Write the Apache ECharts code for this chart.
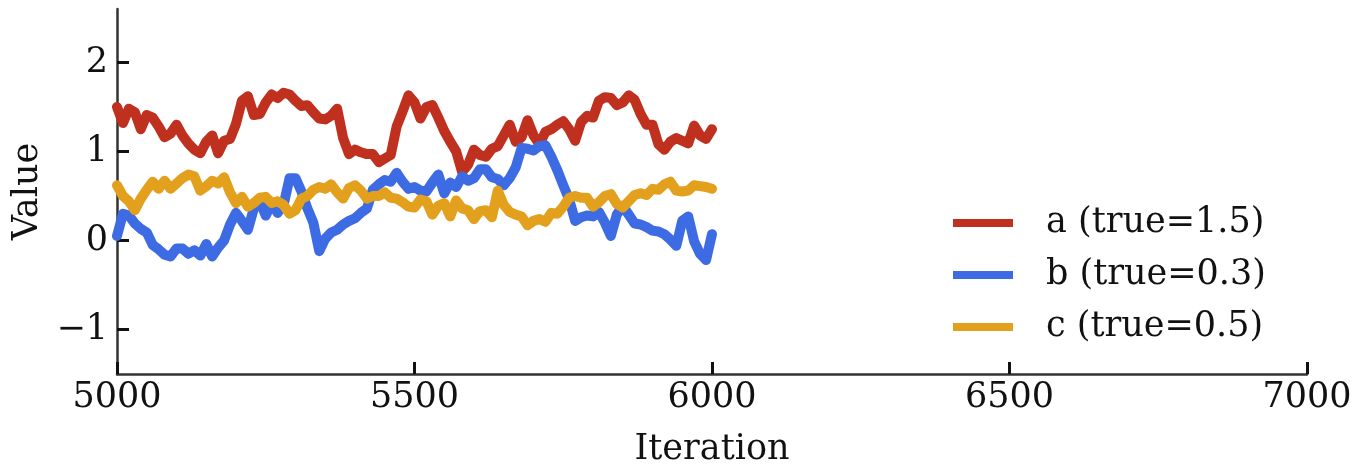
<!DOCTYPE html>
<html>
<head>
<meta charset="utf-8">
<script src="https://cdn.jsdelivr.net/npm/echarts@6/dist/echarts.min.js"></script>
<style>
html,body{margin:0;padding:0;background:#fff;}
#chart{width:1358px;height:472px;}
</style>
</head>
<body>
<div id="chart"></div>
<script>
// Iterations 5000..6000, step 10
const iterations = [];
for (let i = 5000; i <= 6000; i += 10) iterations.push(i);

const seriesNames = ['a (true=1.5)', 'b (true=0.3)', 'c (true=0.5)'];

const aValues = [
1.50,1.32,1.48,1.44,1.25,1.41,1.38,1.28,1.16,1.20,
1.30,1.18,1.09,1.02,0.98,1.11,1.18,0.98,1.12,1.14,
1.31,1.57,1.62,1.41,1.42,1.55,1.64,1.60,1.66,1.64,
1.57,1.51,1.52,1.44,1.37,1.36,1.40,1.48,1.15,0.97,
1.02,0.99,0.97,0.97,0.88,0.92,0.96,1.28,1.45,1.63,
1.55,1.37,1.50,1.52,1.38,1.23,1.11,1.00,0.77,0.85,
1.02,0.96,0.94,1.03,1.06,1.18,1.30,1.11,1.16,1.35,
1.18,1.08,1.22,1.25,1.30,1.34,1.25,1.12,1.33,1.40,
1.38,1.57,1.61,1.60,1.52,1.55,1.63,1.58,1.42,1.30,
1.30,1.08,1.02,1.11,1.15,1.12,1.09,1.29,1.18,1.14,
1.25];

const bValues = [
0.05,0.30,0.28,0.19,0.13,0.09,-0.05,-0.10,-0.16,-0.18,
-0.09,-0.09,-0.15,-0.11,-0.17,-0.04,-0.18,-0.08,0.00,0.18,
0.31,0.22,0.12,0.36,0.44,0.28,0.42,0.31,0.40,0.70,
0.70,0.55,0.36,0.20,-0.12,0.02,0.09,0.12,0.18,0.22,
0.25,0.31,0.36,0.57,0.63,0.68,0.66,0.76,0.66,0.58,
0.60,0.56,0.55,0.65,0.74,0.53,0.65,0.60,0.72,0.67,
0.70,0.80,0.80,0.71,0.69,0.62,0.70,0.82,1.04,1.03,
1.01,1.06,1.07,0.94,0.79,0.62,0.46,0.22,0.26,0.28,
0.27,0.32,0.20,0.05,0.29,0.39,0.29,0.19,0.18,0.15,
0.11,0.10,0.07,0.01,-0.06,0.22,0.27,-0.01,-0.15,-0.22,
0.07];

const cValues = [
0.62,0.50,0.44,0.34,0.47,0.57,0.66,0.58,0.67,0.58,
0.64,0.70,0.74,0.72,0.56,0.61,0.67,0.64,0.71,0.54,
0.42,0.49,0.38,0.42,0.48,0.49,0.42,0.44,0.40,0.30,
0.34,0.47,0.50,0.57,0.60,0.58,0.63,0.54,0.47,0.59,
0.62,0.56,0.47,0.50,0.50,0.54,0.48,0.47,0.43,0.38,
0.37,0.46,0.44,0.29,0.39,0.42,0.27,0.45,0.36,0.34,
0.24,0.33,0.34,0.26,0.56,0.40,0.32,0.29,0.27,0.17,
0.22,0.24,0.21,0.31,0.30,0.38,0.48,0.50,0.48,0.48,
0.38,0.43,0.50,0.52,0.41,0.37,0.44,0.51,0.53,0.51,
0.58,0.57,0.63,0.66,0.56,0.55,0.56,0.62,0.61,0.60,
0.58];

const xTicks = [5000, 5500, 6000, 6500, 7000];
const yTicks = [-1, 0, 1, 2];

const colors = ['#c0301f', '#3d6be3', '#e2a01c'];
const FONT = 'DejaVu Serif';

function pairs(vals) { return iterations.map((x, i) => [x, vals[i]]); }

const chart = echarts.init(document.getElementById('chart'), null, {renderer: 'canvas'});
chart.setOption({
  animation: false,
  backgroundColor: '#ffffff',
  grid: {left: 117, right: 51, top: 9, bottom: 94, containLabel: false},
  legend: {
    orient: 'vertical',
    left: 948, top: 200,
    itemWidth: 60, itemHeight: 8, itemGap: 16,
    icon: 'rect',
    data: seriesNames,
    textStyle: {fontFamily: FONT, fontSize: 35, color: '#111', lineHeight: 36, padding: [0,0,0,28]}
  },
  xAxis: {
    type: 'value', min: 5000, max: 7000, interval: 500,
    name: 'Iteration', nameLocation: 'middle', nameGap: 58,
    nameTextStyle: {fontFamily: FONT, fontSize: 35, color: '#111'},
    axisLine: {show: true, onZero: false, lineStyle: {color: '#333', width: 2.5}},
    axisTick: {show: true, inside: true, length: 12, lineStyle: {color: '#111', width: 3}, customValues: xTicks},
    axisLabel: {fontFamily: FONT, fontSize: 35, color: '#111', margin: 6, customValues: xTicks,
      formatter: v => String(v)},
    splitLine: {show: false}
  },
  yAxis: {
    type: 'value', min: -1.5, max: 2.6,
    name: 'Value', nameLocation: 'middle', nameGap: 59, nameRotate: 90,
    nameTextStyle: {fontFamily: FONT, fontSize: 35, color: '#111'},
    axisLine: {show: true, onZero: false, lineStyle: {color: '#333', width: 2.5}},
    axisTick: {show: true, inside: true, length: 12, lineStyle: {color: '#111', width: 3}, customValues: yTicks},
    axisLabel: {fontFamily: FONT, fontSize: 35, color: '#111', margin: 9, customValues: yTicks,
      formatter: v => String(v).replace('-', '\u2212')},
    splitLine: {show: false}
  },
  series: [aValues, bValues, cValues].map((vals, k) => ({
    name: seriesNames[k],
    type: 'line',
    data: pairs(vals),
    showSymbol: false,
    symbol: 'none',
    color: colors[k],
    lineStyle: {width: 10, color: colors[k], cap: 'round', join: 'round'}
  }))
});
</script>
</body>
</html>
